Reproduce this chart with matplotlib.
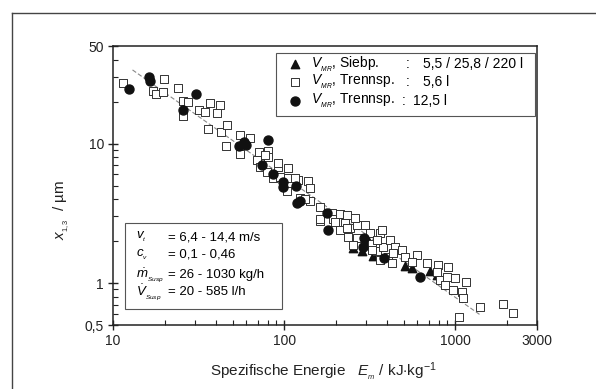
import numpy as np
import matplotlib.pyplot as plt
from matplotlib.lines import Line2D
from matplotlib.patches import Rectangle
from matplotlib.ticker import FixedLocator, NullFormatter

plt.rcParams['font.family'] = ['Liberation Sans', 'DejaVu Sans']
plt.rcParams['mathtext.fontset'] = 'custom'
plt.rcParams['mathtext.rm'] = 'Liberation Sans'
plt.rcParams['mathtext.it'] = 'Liberation Sans:italic'
plt.rcParams['mathtext.bf'] = 'Liberation Sans:bold'

# specific energy E_m [kJ/kg] and particle size x_1,3 [um]
# Siebplatte, 5.5 / 25.8 / 220 l  (triangles)
sieb_E = [252, 285, 330, 309, 508, 558, 711, 781]
sieb_x = [1.78, 1.70, 1.56, 2.03, 1.33, 1.29, 1.22, 1.14]

# Trennspalt, 5.6 l  (open squares)
tr56_E = [11.5, 19.8, 17.1, 17.8, 19.6, 23.9, 25.6, 27.4, 25.6, 31.8,
          34.4, 36.9, 42.2, 40.5, 35.9, 42.8, 46.4, 45.7, 55.2, 63.1,
          55.2, 69.3, 80.4, 72.2, 79.3, 92.0, 86.0, 80.4, 71.2, 77.2,
          94.5, 105, 104, 120, 138, 141, 124, 141, 162, 190,
          162, 193, 212, 227, 212, 242, 266, 266, 317, 363,
          326, 348, 378, 404, 363, 236, 252, 233, 259, 233,
          296, 373, 348, 326, 415, 444, 488, 432, 426, 508,
          597, 558, 682, 792, 905, 781, 813, 893, 995, 1153,
          870, 968, 1093, 1108, 1392, 1897, 2170, 1050, 92, 105,
          116, 133, 198, 162]
tr56_x = [27.1, 29.0, 23.8, 22.7, 23.4, 25.0, 20.2, 19.8, 15.7, 17.4,
          16.8, 19.5, 18.9, 16.6, 12.7, 12.1, 13.6, 9.6, 11.5, 10.9,
          8.4, 7.6, 8.8, 6.8, 6.2, 6.8, 5.7, 8.0, 8.7, 8.3,
          5.8, 5.7, 4.6, 5.5, 5.4, 4.8, 4.1, 3.9, 3.5, 3.2,
          2.8, 2.9, 3.1, 2.7, 2.4, 2.5, 2.6, 2.1, 2.3, 2.3,
          1.9, 1.7, 1.8, 1.54, 1.46, 2.14, 1.87, 3.07, 2.92, 2.48,
          2.6, 2.4, 2.03, 1.73, 2.03, 1.81, 1.73, 1.65, 1.39, 1.54,
          1.59, 1.41, 1.39, 1.35, 1.31, 1.20, 1.05, 1.10, 1.08, 1.01,
          0.97, 0.89, 0.86, 0.78, 0.67, 0.71, 0.61, 0.57, 7.3, 6.7,
          5.7, 4.0, 2.74, 2.9]

# Trennspalt, 12.5 l  (filled circles)
tr125_E = [12.4, 16.2, 16.4, 25.6, 30.6, 54.5, 58.3, 59.8, 80.4, 74.2,
           86.0, 98.4, 98.4, 117, 119, 124, 178, 180, 292, 288,
           383, 621]
tr125_x = [24.6, 30.0, 28.0, 17.4, 22.7, 9.6, 10.3, 9.75, 10.6, 7.0,
           6.05, 5.3, 4.9, 5.0, 3.75, 3.88, 3.18, 2.4, 2.1, 1.81,
           1.51, 1.10]

# regression line endpoints
fit_E = [13, 1400]
fit_x = [33.7, 0.59]

legend_names = [r'$V_{_{MR}}$, Siebp.', r'$V_{_{MR}}$, Trennsp.', r'$V_{_{MR}}$, Trennsp.']
legend_values = ['5,5 / 25,8 / 220 l', '5,6 l', '12,5 l']

box_symbols = [r'$v_{_t}$', r'$c_{_v}$', r'$\dot{m}_{_{Susp}}$', r'$\dot{V}_{_{Susp}}$']
box_values = ['= 6,4 - 14,4 m/s', '= 0,1 - 0,46', '= 26 - 1030 kg/h', '= 20 - 585 l/h']

xticks = [10, 100, 1000, 3000]
xticklabels = ['10', '100', '1000', '3000']
yticks = [0.5, 1, 10, 50]
yticklabels = ['0,5', '1', '10', '50']

sq_style = dict(marker='s', facecolor='white', edgecolor='#333333', linewidths=0.7)
tri_style = dict(marker='^', color='#111111')
dot_style = dict(marker='o', color='#111111')

fig = plt.figure(figsize=(5.96, 3.89), dpi=100)
ax = fig.add_axes([0.1896, 0.1645, 0.7114, 0.7172])

ax.plot(fit_E, fit_x, color='#888888', lw=0.8, ls=(0, (4, 2)), zorder=1)
ax.scatter(sieb_E, sieb_x, s=36, zorder=2, **tri_style)
ax.scatter(tr56_E, tr56_x, s=34, zorder=3, **sq_style)
ax.scatter(tr125_E, tr125_x, s=42, zorder=4, **dot_style)

ax.set_xscale('log')
ax.set_yscale('log')
ax.set_xlim(10, 3000)
ax.set_ylim(0.5, 50)

ax.xaxis.set_major_locator(FixedLocator(xticks))
ax.set_xticklabels(xticklabels)
ax.yaxis.set_major_locator(FixedLocator(yticks))
ax.set_yticklabels(yticklabels)
xminor = [m * 10 ** k for k in (1, 2, 3) for m in range(2, 10) if m * 10 ** k < 3000]
yminor = [m * 10 ** k for k in (-1, 0, 1) for m in range(2, 10) if 0.5 < m * 10 ** k < 50]
ax.xaxis.set_minor_locator(FixedLocator(xminor))
ax.yaxis.set_minor_locator(FixedLocator(yminor))
ax.xaxis.set_minor_formatter(NullFormatter())
ax.yaxis.set_minor_formatter(NullFormatter())
ax.tick_params(which='major', direction='inout', length=7, width=1.0,
               labelsize=10, pad=3, colors='#222222')
ax.tick_params(which='minor', direction='in', length=3.5, width=0.8, colors='#222222')
for sp in ax.spines.values():
    sp.set_linewidth(1.1)
    sp.set_color('#222222')

# legend box drawn by hand so the colons line up
ax.add_patch(Rectangle((0.384, 0.749), 0.612, 0.226, transform=ax.transAxes,
                       facecolor='white', edgecolor='#555555', lw=0.8, zorder=5))
rows_y = [0.935, 0.871, 0.803]
colon_x = [0.691, 0.691, 0.681]
value_x = [0.731, 0.731, 0.707]
for yy, st, sz in zip(rows_y, [tri_style, sq_style, dot_style], [36, 34, 42]):
    ax.scatter([0.429], [yy], s=sz, transform=ax.transAxes, zorder=6, clip_on=False, **st)
for yy, name, cx, vx, val in zip(rows_y, legend_names, colon_x, value_x, legend_values):
    ax.text(0.468, yy, name, transform=ax.transAxes, fontsize=10, va='center', zorder=6)
    ax.text(cx, yy, ':', transform=ax.transAxes, fontsize=10, va='center', zorder=6)
    ax.text(vx, yy, val, transform=ax.transAxes, fontsize=10, va='center', zorder=6)

ax.add_patch(Rectangle((0.028, 0.057), 0.371, 0.309, transform=ax.transAxes,
                       facecolor='white', edgecolor='#555555', lw=0.8, zorder=5))
box_y = [0.315, 0.251, 0.179, 0.118]
for yy, sym, val in zip(box_y, box_symbols, box_values):
    ax.text(0.055, yy, sym, transform=ax.transAxes, fontsize=9.5, va='center', zorder=6)
    ax.text(0.130, yy, val, transform=ax.transAxes, fontsize=9.5, va='center', zorder=6)

fig.text(0.104, 0.460, r'$x_{_{1,3}}$  / µm', rotation=90, ha='center', va='center',
         fontsize=11, color='#222222')
fig.text(0.543, 0.044, r'Spezifische Energie   $E_{_m}$ / kJ$\cdot$kg$^{-1}$',
         ha='center', va='center', fontsize=11, color='#222222')

# scan frame (top and left edge)
fig.add_artist(Line2D([0.020, 0.020], [0.0, 0.966], color='#444444', lw=1.0))
fig.add_artist(Line2D([0.020, 1.0], [0.966, 0.966], color='#444444', lw=1.0))

fig.savefig('out.png', dpi=100, facecolor='white')
